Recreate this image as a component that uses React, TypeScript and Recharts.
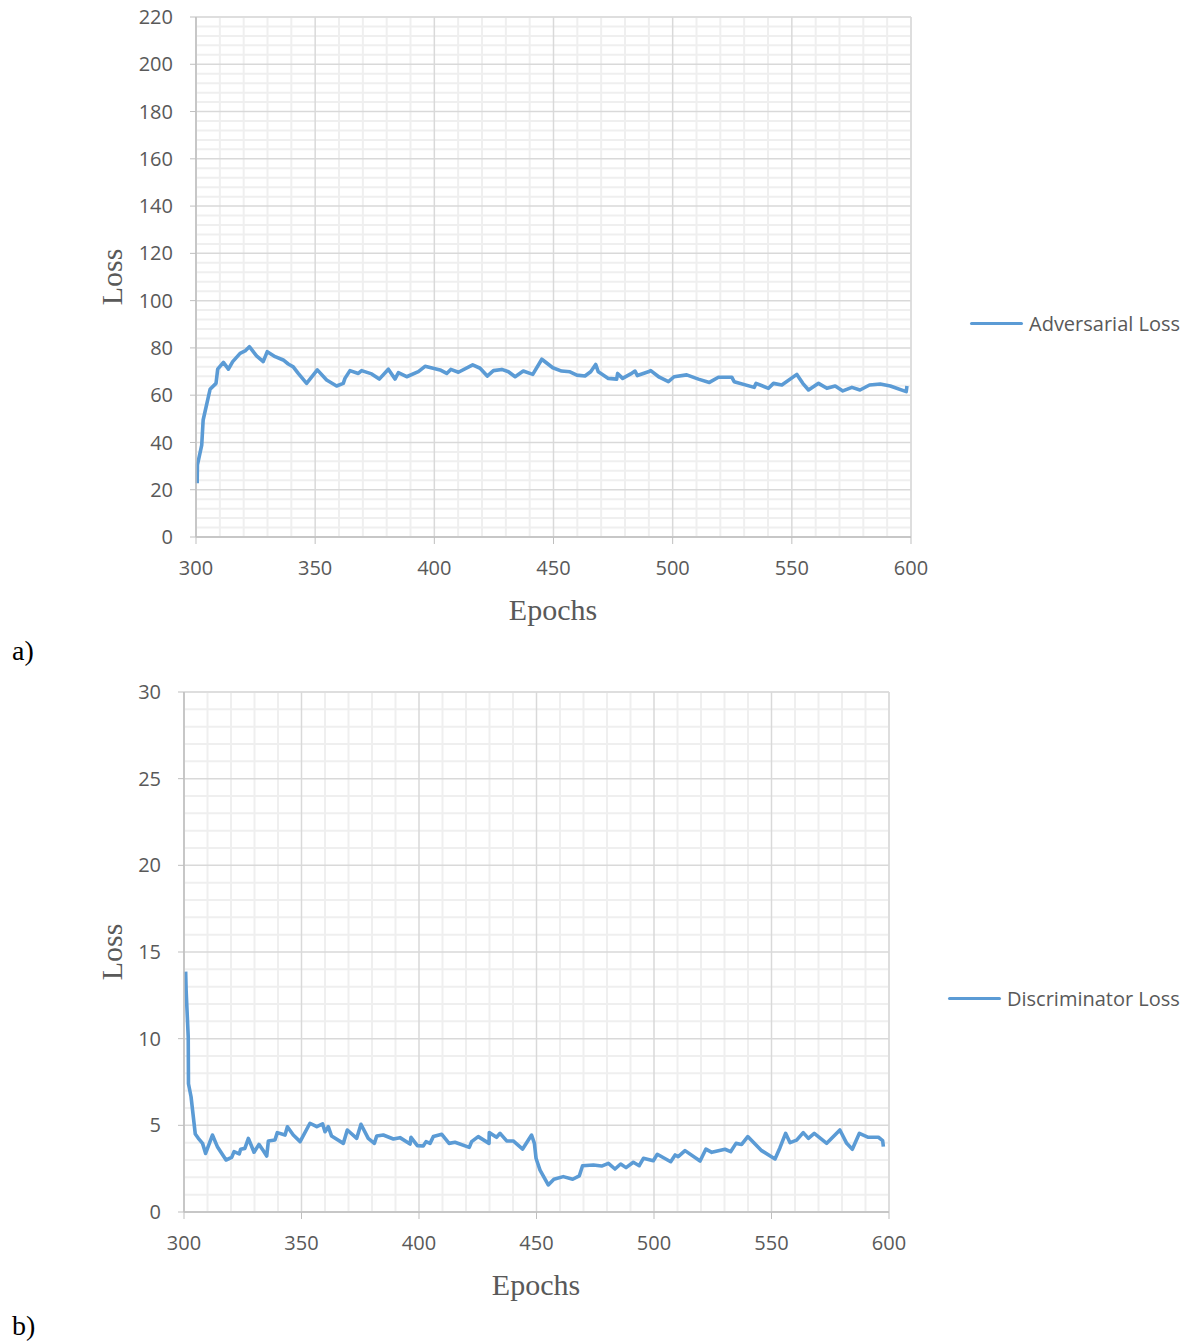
import React from 'react';
import { CartesianGrid, Legend, Line, LineChart, XAxis, YAxis } from 'recharts';

// adversarial loss (chart a), epoch / value pairs
const advEpochs = [
  300.5, 300.6, 302.4, 303, 305.9, 308.4, 309.1, 311.5, 313.6, 315.4, 318.5, 320.6, 322.4, 325.4, 328.2, 329.9,
  333.2, 336.6, 338.7, 340.8, 342.9, 346.4, 350.9, 354.8, 359, 361.8, 362.5, 364.6, 368.1, 369.5, 373.7, 376.9,
  380.7, 383.5, 384.9, 388.4, 393.3, 396.1, 402.4, 405.2, 406.9, 410.1, 416.1, 419.2, 422.2, 424.8, 428.3, 431.1,
  433.9, 437.3, 441.3, 445.1, 449.7, 453.4, 456.9, 459.8, 463.2, 465.6, 467.7, 468.8, 473, 476.5, 476.9, 479,
  482.4, 484.2, 485.2, 489.8, 490.8, 494.4, 498.2, 500.6, 505.9, 510.8, 515.4, 519.2, 524.8, 525.8, 534.2, 535,
  540.2, 542.3, 545.8, 552.1, 554.6, 557, 561.2, 564.7, 568.2, 571.4, 575.2, 578.6, 582.6, 587.1, 591.3, 598, 598.3,
];
const advLoss = [
  22.7, 30.5, 38.9, 49.5, 62.5, 65, 71, 73.9, 71, 74.2, 77.7, 78.7, 80.5, 76.6, 74.2, 78.4,
  76.3, 74.9, 73.2, 72, 69.2, 65, 70.7, 66.4, 63.9, 65, 67.1, 70.4, 69.2, 70.4, 69, 66.8,
  71, 66.8, 69.5, 67.8, 70, 72.2, 70.7, 69.2, 70.9, 69.7, 72.8, 71.4, 68.1, 70.4, 70.9, 69.9,
  67.8, 70.2, 68.8, 75.2, 71.6, 70.2, 69.9, 68.5, 68.1, 69.9, 73, 69.9, 67.1, 66.8, 69.2, 67.1,
  69, 70.2, 68.3, 69.9, 70.4, 67.6, 65.7, 67.8, 68.6, 66.8, 65.4, 67.6, 67.6, 65.7, 63.3, 65,
  62.9, 65, 64.3, 68.8, 65, 62.2, 65, 62.9, 63.9, 61.8, 63.3, 62.2, 64.3, 64.7, 63.9, 61.5, 63.9,
];

// discriminator loss (chart b)
const discEpochs = [
  300.7, 300.9, 301.8, 301.9, 303, 304.8, 306.1, 307.9, 309.2, 312.1, 314.2, 317.9, 320.3, 321.3, 323.5, 324.1,
  325.9, 327.4, 329.8, 331.9, 333.7, 335.2, 335.9, 338.7, 339.7, 343, 344, 346.5, 349.4, 353.6, 356.5, 359,
  360, 361.4, 362.8, 367.8, 369.5, 373.5, 375.3, 378.4, 381, 382, 384.8, 389.1, 391.9, 396.2, 396.6, 399.3,
  401.8, 403, 404.7, 406.1, 409.7, 412.8, 415.3, 421.4, 422.4, 425.2, 429.8, 429.9, 433, 434.5, 437.3, 440.1,
  444.1, 447.9, 449.1, 449.8, 451.5, 455, 457.4, 461.4, 465.4, 468.2, 469.6, 474.2, 477.7, 480.6, 483.4, 485.8,
  488.1, 491.2, 493.7, 495.5, 499.7, 501.4, 507.1, 509, 510.3, 513.2, 519.6, 522.1, 524.6, 530.2, 532.6, 534.9,
  537.3, 539.9, 545.8, 551.5, 553.6, 556, 557.9, 560.7, 563.5, 565.7, 568.2, 573.5, 579.1, 582, 584.4, 587.4,
  591.2, 595.5, 597.3, 597.6,
];
const discLoss = [
  13.87, 12.8, 10.1, 7.4, 6.65, 4.5, 4.25, 3.96, 3.38, 4.44, 3.77, 3.0, 3.15, 3.48, 3.35, 3.62,
  3.67, 4.25, 3.45, 3.9, 3.55, 3.23, 4.1, 4.15, 4.58, 4.44, 4.92, 4.44, 4.06, 5.12, 4.92, 5.08,
  4.63, 4.92, 4.38, 3.96, 4.73, 4.25, 5.06, 4.25, 3.96, 4.38, 4.44, 4.21, 4.29, 3.92, 4.31, 3.83,
  3.81, 4.06, 3.96, 4.35, 4.48, 3.96, 4.02, 3.73, 4.06, 4.35, 3.96, 4.58, 4.31, 4.54, 4.1, 4.1,
  3.63, 4.44, 3.96, 3.1, 2.42, 1.56, 1.89, 2.04, 1.89, 2.08, 2.67, 2.71, 2.65, 2.81, 2.48, 2.77,
  2.56, 2.87, 2.67, 3.1, 2.96, 3.33, 2.9, 3.29, 3.19, 3.54, 2.94, 3.63, 3.44, 3.62, 3.48, 3.96,
  3.9, 4.35, 3.54, 3.06, 3.71, 4.54, 4.0, 4.15, 4.58, 4.25, 4.54, 3.96, 4.73, 3.96, 3.62, 4.54,
  4.31, 4.31, 4.12, 3.77,
];

const epochTicks = [300, 350, 400, 450, 500, 550, 600];
const epochMinor = [310, 320, 330, 340, 360, 370, 380, 390, 410, 420, 430, 440, 460, 470, 480, 490, 510, 520, 530, 540, 560, 570, 580, 590];
const advTicks = [0, 20, 40, 60, 80, 100, 120, 140, 160, 180, 200, 220];
const advMinor = [
  4, 8, 12, 16, 24, 28, 32, 36, 44, 48, 52, 56, 64, 68, 72, 76, 84, 88, 92, 96, 104, 108, 112, 116,
  124, 128, 132, 136, 144, 148, 152, 156, 164, 168, 172, 176, 184, 188, 192, 196, 204, 208, 212, 216,
];
const discTicks = [0, 5, 10, 15, 20, 25, 30];
const discMinor = [1, 2, 3, 4, 6, 7, 8, 9, 11, 12, 13, 14, 16, 17, 18, 19, 21, 22, 23, 24, 26, 27, 28, 29];

const advData = advEpochs.map((e, i) => ({ epoch: e, loss: advLoss[i] }));
const discData = discEpochs.map((e, i) => ({ epoch: e, loss: discLoss[i] }));

const BLUE = '#5b9bd5';
const SANS = '"Open Sans", sans-serif';
const SERIF = '"Liberation Serif", "Times New Roman", serif';
const tickStyle = { fontSize: 20, fill: '#595959', fontFamily: SANS };
const axisLine = { stroke: '#bfbfbf', strokeWidth: 1.5 };

function LegendItem({ label }: { label: string }) {
  return (
    <div style={{ display: 'flex', alignItems: 'center', fontFamily: SANS, fontSize: 20, color: '#595959', whiteSpace: 'nowrap' }}>
      <span style={{ display: 'inline-block', width: 53, height: 3.6, borderRadius: 2, background: BLUE, marginRight: 6 }} />
      {label}
    </div>
  );
}

function LossChart({
  data, top, height, margin, yMax, yTicks, yMinor, legend, legendPos,
}: {
  data: { epoch: number; loss: number }[];
  top: number;
  height: number;
  margin: { top: number; right: number; bottom: number; left: number };
  yMax: number;
  yTicks: number[];
  yMinor: number[];
  legend: string;
  legendPos: { left: number; top: number };
}) {
  return (
    <div style={{ position: 'absolute', left: 0, top }}>
      <LineChart width={1197} height={height} data={data} margin={margin}>
        <XAxis xAxisId="minor" type="number" dataKey="epoch" domain={[300, 600]} ticks={epochMinor} interval={0} allowDataOverflow hide />
        <YAxis yAxisId="minor" type="number" dataKey="loss" domain={[0, yMax]} ticks={yMinor} interval={0} allowDataOverflow hide />
        <CartesianGrid xAxisId="minor" yAxisId="minor" stroke="#efefef" strokeWidth={2} />
        <CartesianGrid stroke="#d9d9d9" strokeWidth={1.5} />
        <XAxis
          type="number"
          dataKey="epoch"
          domain={[300, 600]}
          ticks={epochTicks}
          interval={0}
          tick={tickStyle}
          axisLine={axisLine}
          tickLine={{ stroke: '#bfbfbf' }}
          tickSize={7}
          tickMargin={17}
        />
        <YAxis
          type="number"
          domain={[0, yMax]}
          ticks={yTicks}
          interval={0}
          width={60}
          tick={tickStyle}
          axisLine={axisLine}
          tickLine={{ stroke: '#bfbfbf' }}
          tickSize={6}
          tickMargin={17}
        />
        <Line
          type="linear"
          dataKey="loss"
          stroke={BLUE}
          strokeWidth={3.6}
          strokeLinejoin="round"
          dot={false}
          activeDot={false}
          isAnimationActive={false}
        />
        <Legend
          layout="horizontal"
          verticalAlign="middle"
          align="center"
          content={() => <LegendItem label={legend} />}
          wrapperStyle={{ left: legendPos.left, top: legendPos.top, width: 240 }}
        />
      </LineChart>
    </div>
  );
}

const serifLabel = { position: 'absolute' as const, fontFamily: SERIF, color: '#595959', fontSize: 30, whiteSpace: 'nowrap' as const };

export default function App() {
  return (
    <div style={{ position: 'absolute', left: 0, top: 0, width: 1197, height: 1341, background: '#fff' }}>
      <LossChart
        data={advData}
        top={0}
        height={660}
        margin={{ top: 17, right: 286, bottom: 93, left: 136 }}
        yMax={220}
        yTicks={advTicks}
        yMinor={advMinor}
        legend="Adversarial Loss"
        legendPos={{ left: 970, top: 310 }}
      />
      <LossChart
        data={discData}
        top={670}
        height={670}
        margin={{ top: 22, right: 308, bottom: 98, left: 124 }}
        yMax={30}
        yTicks={discTicks}
        yMinor={discMinor}
        legend="Discriminator Loss"
        legendPos={{ left: 948, top: 315 }}
      />
      <div style={{ ...serifLabel, left: 553, top: 610, transform: 'translate(-50%, -50%)' }}>Epochs</div>
      <div style={{ ...serifLabel, left: 536, top: 1285, transform: 'translate(-50%, -50%)' }}>Epochs</div>
      <div style={{ ...serifLabel, left: 112, top: 277, transform: 'translate(-50%, -50%) rotate(-90deg)' }}>Loss</div>
      <div style={{ ...serifLabel, left: 112, top: 952, transform: 'translate(-50%, -50%) rotate(-90deg)' }}>Loss</div>
      <div style={{ ...serifLabel, color: '#000', fontSize: 28, left: 12, top: 651, transform: 'translateY(-50%)' }}>a)</div>
      <div style={{ ...serifLabel, color: '#000', fontSize: 28, left: 12, top: 1326, transform: 'translateY(-50%)' }}>b)</div>
    </div>
  );
}
